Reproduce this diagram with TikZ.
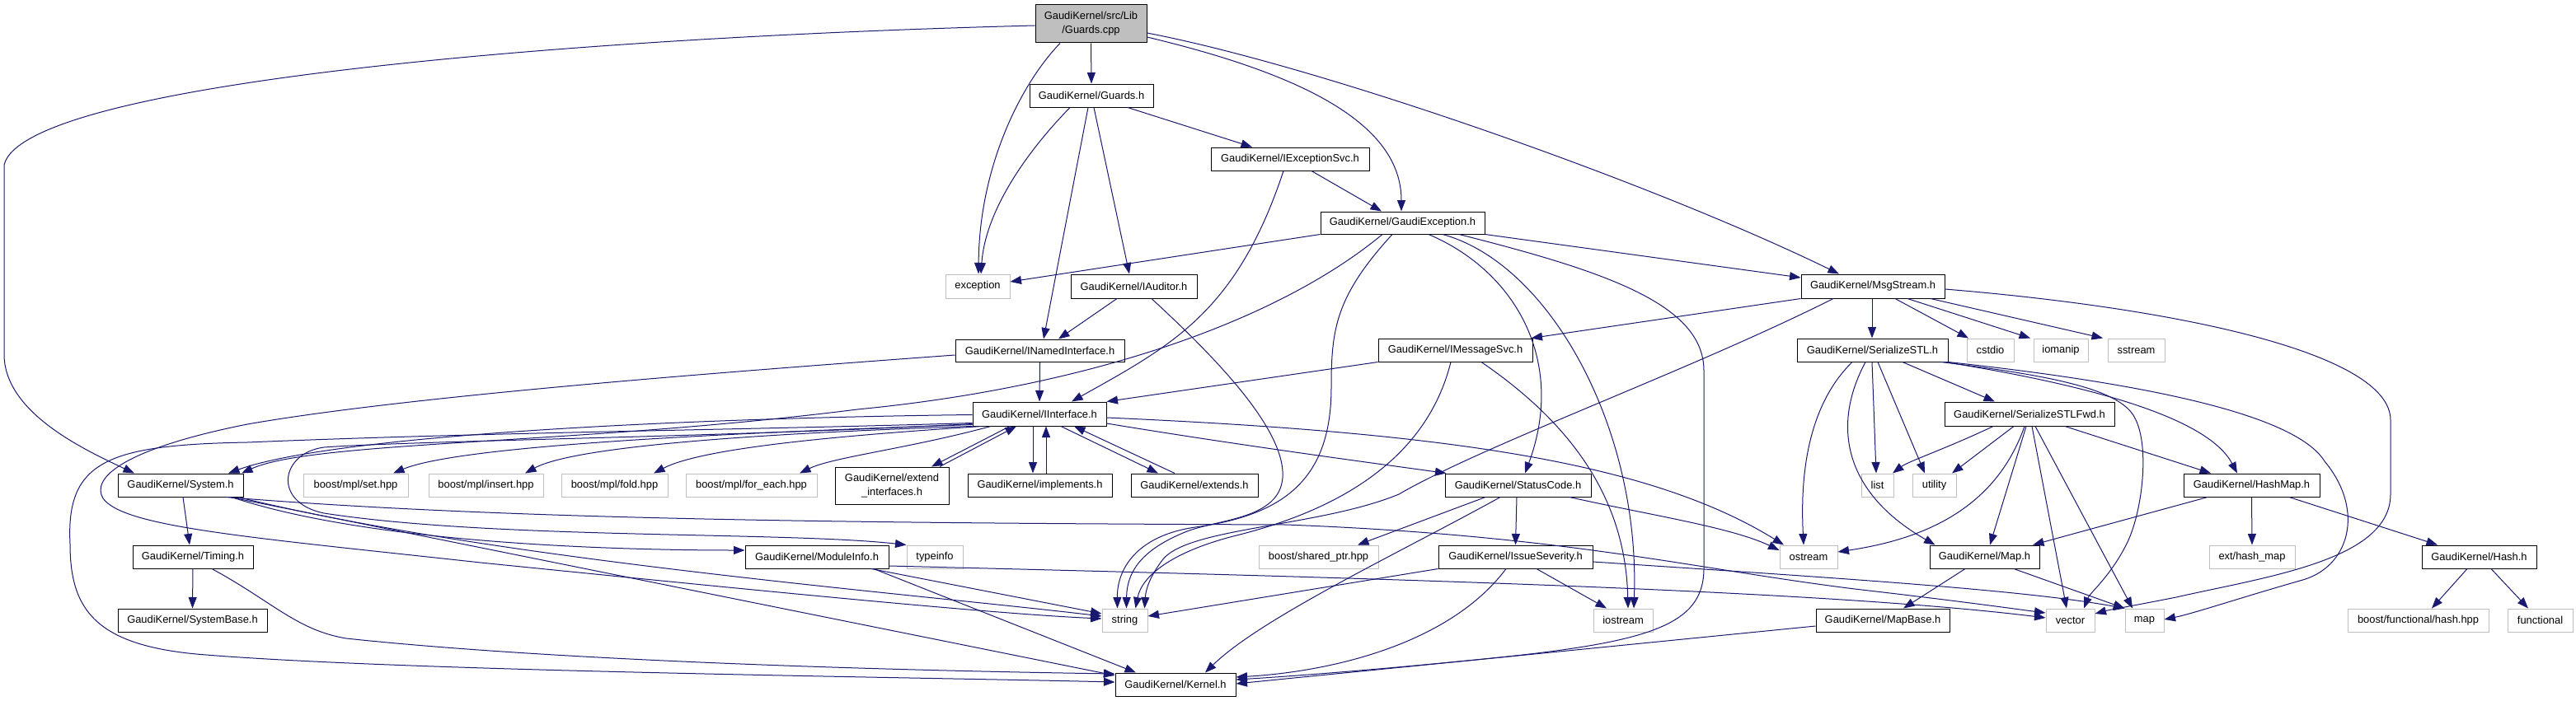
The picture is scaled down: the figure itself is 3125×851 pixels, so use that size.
\documentclass[tikz,border=0pt]{standalone}
\usepackage{fontspec}
\setmainfont{Liberation Sans}
\usetikzlibrary{arrows.meta}
\definecolor{edgeblue}{HTML}{191970}
\definecolor{extgray}{HTML}{BFBFBF}
\definecolor{rootgray}{HTML}{BFBFBF}
\tikzset{
  gk/.style={draw=black, line width=1pt, rectangle, inner sep=0pt, align=center, font=\fontsize{12.9}{17}\selectfont},
  gx/.style={gk, draw=extgray},
  wh/.style 2 args={minimum width=#1pt, minimum height=#2pt},
  dep/.style={draw=edgeblue, line width=1pt, -{Triangle[length=13.5pt,width=10pt]}},
}
\begin{document}
\begin{tikzpicture}[x=1pt,y=-1pt]
\fill[white] (0,0) rectangle (3125,851);
\useasboundingbox (0,0) rectangle (3125,851);
% nodes
\node[gk,fill=rootgray,wh={135}{46}] (root) at (1323.5,29) {GaudiKernel/src/Lib\\/Guards.cpp};
\node[gk,wh={150}{28}] (guardsh) at (1324,116) {GaudiKernel/Guards.h};
\node[gk,wh={192}{28}] (iexcsvc) at (1565,193) {GaudiKernel/IExceptionSvc.h};
\node[gk,wh={199}{27}] (gexc) at (1701.5,270.5) {GaudiKernel/GaudiException.h};
\node[gx,wh={78}{29}] (exception) at (1186,347.5) {exception};
\node[gk,wh={153}{29}] (iauditor) at (1375.5,347.5) {GaudiKernel/IAuditor.h};
\node[gk,wh={205}{27}] (inamed) at (1261.5,425.5) {GaudiKernel/INamedInterface.h};
\node[gk,wh={187}{28}] (imsgsvc) at (1765.5,425) {GaudiKernel/IMessageSvc.h};
\node[gk,wh={174}{29}] (msgstream) at (2272,347.5) {GaudiKernel/MsgStream.h};
\node[gk,wh={183}{28}] (serstl) at (2271.5,425) {GaudiKernel/SerializeSTL.h};
\node[gx,wh={57}{28}] (cstdio) at (2414.5,425) {cstdio};
\node[gx,wh={66}{28}] (iomanip) at (2500,425) {iomanip};
\node[gx,wh={69}{28}] (sstream) at (2591.5,425) {sstream};
\node[gk,wh={162}{29}] (iinterface) at (1261,502.5) {GaudiKernel/IInterface.h};
\node[gk,wh={152}{28}] (system) at (219,589) {GaudiKernel/System.h};
\node[gx,wh={127}{28}] (mplset) at (431.5,589) {boost/mpl/set.hpp};
\node[gx,wh={139}{28}] (mplinsert) at (589.5,589) {boost/mpl/insert.hpp};
\node[gx,wh={129}{28}] (mplfold) at (745.5,589) {boost/mpl/fold.hpp};
\node[gx,wh={159}{28}] (mplforeach) at (911.5,589) {boost/mpl/for\_each.hpp};
\node[gk,wh={138}{45}] (extend) at (1082,589.5) {GaudiKernel/extend\\\_interfaces.h};
\node[gk,wh={175}{28}] (implements) at (1261.5,589) {GaudiKernel/implements.h};
\node[gk,wh={154}{28}] (extends) at (1449,589) {GaudiKernel/extends.h};
\node[gk,wh={177}{28}] (statuscode) at (1841.5,589) {GaudiKernel/StatusCode.h};
\node[gk,wh={206}{29}] (serfwd) at (2462,502.5) {GaudiKernel/SerializeSTLFwd.h};
\node[gx,wh={39}{28}] (list) at (2277.5,589) {list};
\node[gx,wh={53}{28}] (utility) at (2346.5,589) {utility};
\node[gk,wh={165}{28}] (hashmap) at (2731.5,589) {GaudiKernel/HashMap.h};
\node[gk,wh={146}{28}] (timing) at (234,676) {GaudiKernel/Timing.h};
\node[gk,wh={174}{28}] (moduleinfo) at (991,676) {GaudiKernel/ModuleInfo.h};
\node[gx,wh={68}{28}] (typeinfo) at (1134,676) {typeinfo};
\node[gx,wh={145}{28}] (sharedptr) at (1599.5,676) {boost/shared\_ptr.hpp};
\node[gk,wh={187}{28}] (issue) at (1838.5,676) {GaudiKernel/IssueSeverity.h};
\node[gx,wh={70}{28}] (ostream) at (2194,676) {ostream};
\node[gk,wh={133}{28}] (maph) at (2407.5,676) {GaudiKernel/Map.h};
\node[gx,wh={104}{28}] (hashext) at (2732,676) {ext/hash\_map};
\node[gk,wh={139}{28}] (hash) at (3007.5,676) {GaudiKernel/Hash.h};
\node[gk,wh={181}{28}] (systembase) at (233.5,753) {GaudiKernel/SystemBase.h};
\node[gx,wh={55}{28}] (string) at (1364.5,753) {string};
\node[gx,wh={72}{28}] (iostream) at (1969,753) {iostream};
\node[gk,wh={162}{28}] (mapbase) at (2284,753) {GaudiKernel/MapBase.h};
\node[gx,wh={59}{28}] (vector) at (2511.5,753) {vector};
\node[gx,wh={47}{28}] (map) at (2601.5,753) {map};
\node[gx,wh={171}{28}] (boostfh) at (2933.5,753) {boost/functional/hash.hpp};
\node[gx,wh={79}{28}] (functional) at (3081.5,753) {functional};
\node[gk,wh={146}{28}] (kernel) at (1426,831) {GaudiKernel/Kernel.h};
% Guards.cpp
\draw[dep] (root.south) -- (guardsh.north);
\draw[dep] ([xshift=-37.5pt]root.south) .. controls (1240,100) and (1188,200) .. ([xshift=1pt]exception.north);
\draw[dep] ([yshift=-16pt]root.east) .. controls (1580,90) and (1700,150) .. ([xshift=-1.5pt]gexc.north);
\draw[dep] ([yshift=-11pt]root.east) .. controls (1600,80) and (2000,220) .. ([xshift=-41pt]msgstream.north);
\draw[dep] ([yshift=-2pt]root.west) .. controls (700,45) and (30,100) .. (5,200) -- (5,430) .. controls (5,500) and (100,545) .. ([xshift=-56pt]system.north);
% Guards.h
\draw[dep] ([xshift=-26pt]guardsh.south) .. controls (1240,190) and (1195,260) .. ([xshift=4pt]exception.north);
\draw[dep] ([xshift=-4pt]guardsh.south) -- ([xshift=4.5pt]inamed.north);
\draw[dep] ([xshift=3pt]guardsh.south) -- ([xshift=-5.5pt]iauditor.north);
\draw[dep] ([xshift=44pt]guardsh.south) -- ([xshift=-46pt]iexcsvc.north);
% IExceptionSvc
\draw[dep] ([xshift=26pt]iexcsvc.south) -- ([xshift=-25.5pt]gexc.north);
\draw[dep] ([xshift=-8pt]iexcsvc.south) .. controls (1500,380) and (1420,420) .. ([xshift=39pt]iinterface.north);
% IAuditor
\draw[dep] ([xshift=-20.5pt]iauditor.south) -- ([xshift=22.5pt]inamed.north);
\draw[dep] ([xshift=21.5pt]iauditor.south) .. controls (1470,430) and (1560,520) .. (1556,580) .. controls (1552,630) and (1480,630) .. (1440,645) .. controls (1390,665) and (1367,690) .. ([xshift=2pt]string.north);
% INamedInterface
\draw[dep] (inamed.south) -- (iinterface.north);
\draw[dep] ([yshift=-5.5pt]inamed.west) .. controls (900,450) and (500,480) .. (300,515) .. controls (150,545) and (110,580) .. (125,605) .. controls (150,640) and (300,652) .. (583,683) .. controls (900,715) and (1200,745) .. ([yshift=2pt]string.west);
% IInterface
\draw[dep] ([yshift=-1pt]iinterface.west) .. controls (800,508) and (400,530) .. ([xshift=58pt]system.north);
\draw[dep] ([yshift=-11pt]iinterface.west) .. controls (900,522) and (583,525) .. (300,537) .. controls (130,540) and (80,560) .. (85,660) .. controls (85,740) and (115,785) .. (250,795) .. controls (500,815) and (1100,822) .. ([yshift=3pt]kernel.west);
\draw[dep] ([yshift=-12pt]iinterface.west) .. controls (900,530) and (500,535) .. (393,543) .. controls (340,550) and (330,610) .. (393,623) .. controls (600,655) and (950,645) .. (typeinfo.north west);
\draw[dep] ([yshift=-13pt]iinterface.west) .. controls (900,525) and (560,540) .. ([xshift=45.5pt]mplset.north);
\draw[dep] (iinterface.south west) .. controls (950,525) and (700,540) .. ([xshift=47.5pt]mplinsert.north);
\draw[dep] ([xshift=-70pt]iinterface.south) .. controls (1000,530) and (850,545) .. ([xshift=47.5pt]mplfold.north);
\draw[dep] ([xshift=-59pt]iinterface.south) .. controls (1100,545) and (1010,555) .. ([xshift=58.5pt]mplforeach.north);
\draw[dep] ([xshift=-36pt]iinterface.south) -- ([xshift=48pt]extend.north);
\draw[dep] ([xshift=58pt]extend.north) -- ([xshift=-28pt]iinterface.south);
\draw[dep] ([xshift=-8pt]iinterface.south) -- ([xshift=-8.5pt]implements.north);
\draw[dep] ([xshift=7.5pt]implements.north) -- ([xshift=8pt]iinterface.south);
\draw[dep] ([xshift=26pt]iinterface.south) -- ([xshift=-44pt]extends.north);
\draw[dep] ([xshift=-24pt]extends.north) -- ([xshift=42pt]iinterface.south);
\draw[dep] ([yshift=-11.5pt]iinterface.east) .. controls (1500,540) and (1650,560) .. ([xshift=2pt]statuscode.north west);
\draw[dep] ([yshift=-4.5pt]iinterface.east) .. controls (1750,525) and (2000,560) .. ([xshift=-30pt]ostream.north);
% IMessageSvc
\draw[dep] (imsgsvc.south west) -- (iinterface.north east);
\draw[dep] ([xshift=-5.5pt]imsgsvc.south) .. controls (1730,560) and (1620,620) .. (1500,650) .. controls (1420,670) and (1385,700) .. ([xshift=13pt]string.north);
\draw[dep] ([xshift=31.5pt]imsgsvc.south) .. controls (1900,510) and (1972,600) .. ([xshift=6pt]iostream.north);
% GaudiException
\draw[dep] (gexc.south west) -- ([yshift=5.5pt]exception.east);
\draw[dep] (gexc.south east) -- ([yshift=10.5pt]msgstream.west);
\draw[dep] ([xshift=-24.5pt]gexc.south) .. controls (1550,390) and (1320,470) .. (1040,497) .. controls (700,540) and (380,535) .. ([xshift=74pt]system.north);
\draw[dep] ([xshift=-12.5pt]gexc.south) .. controls (1620,360) and (1615,400) .. (1615,470) .. controls (1615,580) and (1560,625) .. (1450,640) .. controls (1380,650) and (1355,690) .. ([xshift=-9pt]string.north);
\draw[dep] ([xshift=48.5pt]gexc.south) .. controls (1880,320) and (1990,520) .. ([xshift=13pt]iostream.north);
\draw[dep] ([xshift=31.5pt]gexc.south) .. controls (1840,330) and (1900,440) .. ([xshift=8.5pt]statuscode.north);
\draw[dep] ([xshift=68.5pt]gexc.south) .. controls (1950,330) and (2067,370) .. (2067,450) -- (2067,690) .. controls (2067,760) and (2000,780) .. (1800,800) .. controls (1650,815) and (1550,822) .. ([yshift=6pt]kernel.east);
% StatusCode
\draw[dep] ([xshift=-39.5pt]statuscode.south) -- ([xshift=47.5pt]sharedptr.north);
\draw[dep] ([xshift=-1.5pt]statuscode.south) -- (issue.north);
\draw[dep] ([xshift=-21.5pt]statuscode.south) .. controls (1700,670) and (1530,750) .. ([xshift=36pt]kernel.north);
\draw[dep] ([xshift=62.5pt]statuscode.south) .. controls (2000,625) and (2100,640) .. ([yshift=8pt]ostream.west);
% IssueSeverity
\draw[dep] (issue.south west) -- ([yshift=5pt]string.east);
\draw[dep] ([xshift=-11.5pt]issue.south) .. controls (1760,780) and (1620,815) .. ([yshift=9pt]kernel.east);
\draw[dep] ([xshift=25.5pt]issue.south) -- ([xshift=-20pt]iostream.north);
\draw[dep] ([yshift=-6pt]issue.east) .. controls (2200,700) and (2450,715) .. (map.north west);
% System
\draw[dep] ([xshift=3pt]system.south) -- ([xshift=-4pt]timing.north);
\draw[dep] ([xshift=62pt]system.south) .. controls (450,660) and (750,668) .. ([yshift=8pt]moduleinfo.west);
\draw[dep] ([xshift=70pt]system.south) .. controls (600,680) and (1100,720) .. ([yshift=5pt]string.west);
\draw[dep] ([xshift=60pt]system.south) -- ([yshift=11pt]kernel.west);
\draw[dep] ([xshift=55pt]system.south) .. controls (600,630) and (1000,635) .. (1560,637) .. controls (1900,650) and (2050,690) .. (2250,715) .. controls (2380,730) and (2450,740) .. ([yshift=9pt]vector.west);
% Timing
\draw[dep] (timing.south) -- (systembase.north);
\draw[dep] ([xshift=23pt]timing.south) .. controls (330,730) and (360,765) .. (420,775) .. controls (700,805) and (1150,815) .. ([yshift=13pt]kernel.west);
% ModuleInfo
\draw[dep] ([xshift=66pt]moduleinfo.south) -- ([yshift=8pt]string.west);
\draw[dep] ([xshift=69pt]moduleinfo.south) -- ([xshift=-48pt]kernel.north);
\draw[dep] ([yshift=-11pt]moduleinfo.east) .. controls (1600,700) and (2200,715) .. ([yshift=3pt]vector.west);
% MsgStream
\draw[dep] ([xshift=-1pt]msgstream.south) -- ([xshift=-0.5pt]serstl.north);
\draw[dep] ([xshift=27pt]msgstream.south) -- ([xshift=-26.5pt]cstdio.north);
\draw[dep] ([xshift=42pt]msgstream.south) -- ([xshift=-37pt]iomanip.north);
\draw[dep] ([xshift=70pt]msgstream.south) -- ([xshift=-40.5pt]sstream.north);
\draw[dep] (msgstream.south west) -- ([xshift=-2pt]imsgsvc.north east);
\draw[dep] ([xshift=-48pt]msgstream.south) .. controls (2050,450) and (1800,540) .. (1697,600) .. controls (1600,640) and (1440,640) .. (1410,680) .. controls (1395,700) and (1390,715) .. ([xshift=24pt]string.north);
\draw[dep] ([yshift=-3.5pt]msgstream.east) .. controls (2650,375) and (2900,430) .. (2900,510) -- (2900,600) .. controls (2900,680) and (2750,700) .. (2640,725) .. controls (2590,735) and (2560,740) .. ([yshift=8pt]vector.east);
% SerializeSTL
\draw[dep] ([xshift=-24.5pt]serstl.south) .. controls (2185,500) and (2185,600) .. ([xshift=-6pt]ostream.north);
\draw[dep] ([xshift=-8.5pt]serstl.south) .. controls (2220,520) and (2240,600) .. ([xshift=-60pt]maph.north);
\draw[dep] ([xshift=-0.5pt]serstl.south) -- ([xshift=-1.5pt]list.north);
\draw[dep] ([xshift=6.5pt]serstl.south) -- ([xshift=-11.5pt]utility.north);
\draw[dep] ([xshift=36.5pt]serstl.south) -- ([xshift=-42pt]serfwd.north);
\draw[dep] ([xshift=83.5pt]serstl.south) .. controls (2480,455) and (2560,470) .. (2585,500) .. controls (2610,530) and (2600,620) .. (2580,660) .. controls (2560,700) and (2535,720) .. ([xshift=16.5pt]vector.north);
\draw[dep] ([xshift=88pt]serstl.south) .. controls (2550,470) and (2680,510) .. ([xshift=-17.5pt]hashmap.north);
\draw[dep] (serstl.south east) .. controls (2550,460) and (2780,495) .. (2820,560) .. controls (2870,620) and (2850,690) .. (2790,705) .. controls (2720,725) and (2660,745) .. ([yshift=1pt]map.east);
% SerializeSTLFwd
\draw[dep] ([xshift=-44pt]serfwd.south) .. controls (2360,545) and (2315,560) .. ([xshift=18.5pt]list.north);
\draw[dep] ([xshift=-19pt]serfwd.south) -- ([xshift=21.5pt]utility.north);
\draw[dep] ([xshift=-6pt]serfwd.south) .. controls (2420,620) and (2330,655) .. ([yshift=6pt]ostream.east);
\draw[dep] ([xshift=-4pt]serfwd.south) -- ([xshift=6.5pt]maph.north);
\draw[dep] ([xshift=3pt]serfwd.south) -- ([xshift=-4.5pt]vector.north);
\draw[dep] ([xshift=7pt]serfwd.south) -- ([xshift=-14.5pt]map.north);
\draw[dep] ([xshift=43pt]serfwd.south) -- ([xshift=-49.5pt]hashmap.north);
% HashMap, Hash, Map, MapBase
\draw[dep] ([xshift=-53.5pt]hashmap.south) -- ([xshift=58.5pt]maph.north);
\draw[dep] (hashmap.south) -- (hashext.north);
\draw[dep] ([xshift=45.5pt]hashmap.south) -- ([xshift=-50.5pt]hash.north);
\draw[dep] ([xshift=-14.5pt]hash.south) -- ([xshift=16.5pt]boostfh.north);
\draw[dep] ([xshift=14.5pt]hash.south) -- ([xshift=-14.5pt]functional.north);
\draw[dep] ([xshift=-23.5pt]maph.south) -- ([xshift=25pt]mapbase.north);
\draw[dep] ([xshift=35.5pt]maph.south) -- (map.north west);
\draw[dep] ([yshift=-7pt]mapbase.west) -- ([yshift=1pt]kernel.east);
\end{tikzpicture}
\end{document}
